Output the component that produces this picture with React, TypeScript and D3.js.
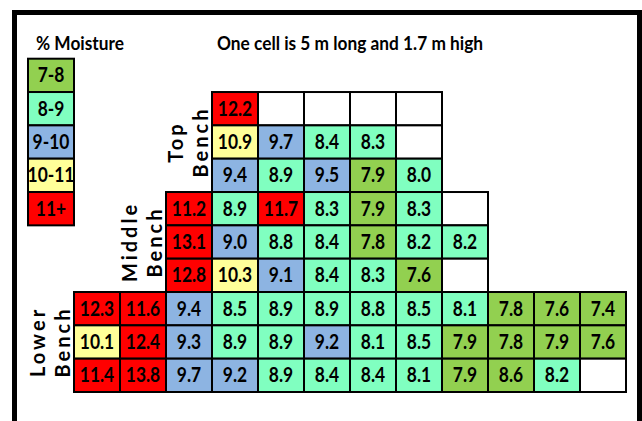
import * as d3 from "d3";
import { useEffect } from "react";

// legend bands and colours
const bandLabels = ["7-8", "8-9", "9-10", "10-11", "11+"];
const bandColors = ["#92D050", "#80FFC0", "#8DB4E2", "#FFFF99", "#FF0000"];
const bandThresholds = [8, 9, 10, 11];

const benchNames = [
  ["Top", "Bench"],
  ["Middle", "Bench"],
  ["Lower", "Bench"],
];
// first column used by each bench
const benchStartCol = [3, 2, 0];

// moisture readings, one array per row (null = empty cell)
const topBench = [
  [12.2, null, null, null, null],
  [10.9, 9.7, 8.4, 8.3, null],
  [9.4, 8.9, 9.5, 7.9, 8.0],
];
const middleBench = [
  [11.2, 8.9, 11.7, 8.3, 7.9, 8.3, null],
  [13.1, 9.0, 8.8, 8.4, 7.8, 8.2, 8.2],
  [12.8, 10.3, 9.1, 8.4, 8.3, 7.6, null],
];
const lowerBench = [
  [12.3, 11.6, 9.4, 8.5, 8.9, 8.9, 8.8, 8.5, 8.1, 7.8, 7.6, 7.4],
  [10.1, 12.4, 9.3, 8.9, 8.9, 9.2, 8.1, 8.5, 7.9, 7.8, 7.9, 7.6],
  [11.4, 13.8, 9.7, 9.2, 8.9, 8.4, 8.4, 8.1, 7.9, 8.6, 8.2, null],
];
// cells shaded differently from their value in the original sheet
const colorOverrides = [{ row: 8, col: 9, band: "7-8" }];

const title = "% Moisture";
const subtitle = "One cell is 5 m long and 1.7 m high";

const W = 642;
const H = 421;
const FONT = "Lato, 'Open Sans', sans-serif";

type Cell = { row: number; col: number; v: number | null };

// Calibri-ish look: Lato bold squeezed horizontally
const Narrow = ({
  x,
  y,
  sx,
  size,
  anchor = "start",
  children,
}: {
  x: number;
  y: number;
  sx: number;
  size: number;
  anchor?: string;
  children: any;
}) => (
  <text
    transform={`translate(${x},${y}) scale(${sx},1)`}
    textAnchor={anchor}
    fontFamily={FONT}
    fontWeight="bold"
    fontSize={size}
  >
    {children}
  </text>
);

export default function App() {
  useEffect(() => {
    document.body.style.margin = "0";
  }, []);

  const x = d3.scaleLinear().domain([-1, 12]).range([28, 626]);
  const y = d3.scaleLinear().domain([-1, 9]).range([58.7, 392]);
  const color = d3
    .scaleThreshold<number, string>()
    .domain(bandThresholds)
    .range(bandColors);
  const bandColor = d3.scaleOrdinal<string, string>().domain(bandLabels).range(bandColors);

  const cells: Cell[] = [];
  [topBench, middleBench, lowerBench].forEach((bench, b) => {
    bench.forEach((vals, r) => {
      vals.forEach((v, c) => {
        cells.push({ row: b * 3 + r, col: benchStartCol[b] + c, v });
      });
    });
  });

  const fillFor = (d: Cell) => {
    if (d.v == null) return "#ffffff";
    const o = colorOverrides.find((k) => k.row === d.row && k.col === d.col);
    return o ? bandColor(o.band) : color(d.v);
  };

  const cw = x(1) - x(0);
  const ch = y(1) - y(0);

  return (
    <svg
      width={W}
      height={H}
      style={{ display: "block", position: "absolute", left: 0, top: 0, background: "#fff" }}
    >
      <rect x={14.5} y={12.5} width={625} height={H + 20} fill="none" stroke="#000" strokeWidth={5} />

      <Narrow x={36} y={50} sx={0.91} size={19}>
        {title}
      </Narrow>
      <Narrow x={217} y={50} sx={0.91} size={19}>
        {subtitle}
      </Narrow>

      {/* legend */}
      {bandLabels.map((lab, i) => (
        <g key={lab}>
          <rect
            x={x(-1)}
            y={y(i - 1)}
            width={cw}
            height={ch}
            fill={bandColors[i]}
            stroke="#000"
            strokeWidth={2}
          />
          <Narrow x={x(-1) + cw / 2} y={y(i - 1) + ch / 2 + 7} sx={0.87} size={20} anchor="middle">
            {lab}
          </Narrow>
        </g>
      ))}

      {/* grid cells */}
      {cells.map((d) => (
        <g key={`${d.row}-${d.col}`}>
          <rect
            x={x(d.col)}
            y={y(d.row)}
            width={cw}
            height={ch}
            fill={fillFor(d)}
            stroke="#000"
            strokeWidth={2}
          />
          {d.v != null && (
            <Narrow x={x(d.col) + cw / 2} y={y(d.row) + ch / 2 + 7} sx={0.87} size={20} anchor="middle">
              {d.v.toFixed(1)}
            </Narrow>
          )}
        </g>
      ))}

      {/* bench labels */}
      {benchNames.map((lines, b) => {
        const cy = y(b * 3 + 1.5);
        const base2 = x(benchStartCol[b]) - 4;
        return (
          <g key={b}>
            {lines.map((t, i) => {
              const bx = base2 - (lines.length - 1 - i) * 25;
              return (
                <text
                  key={t}
                  transform={`translate(${bx},${cy}) rotate(-90)`}
                  textAnchor="middle"
                  fontFamily={FONT}
                  fontWeight="bold"
                  fontSize={20}
                  letterSpacing={3}
                >
                  {t}
                </text>
              );
            })}
          </g>
        );
      })}
    </svg>
  );
}
